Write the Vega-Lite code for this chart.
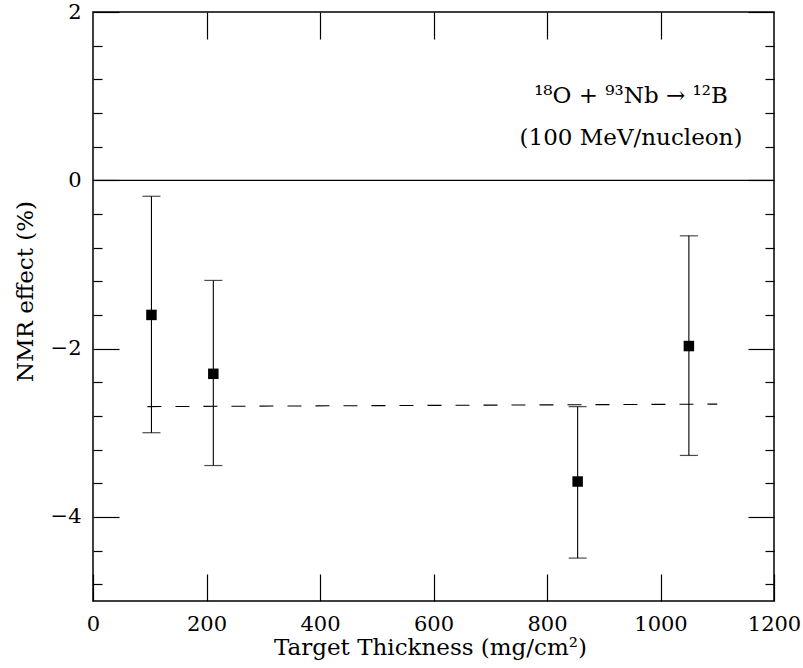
{
  "$schema": "https://vega.github.io/schema/vega-lite/v6.json",
  "width": 681,
  "height": 589,
  "autosize": {"type": "none"},
  "padding": {"left": 93, "top": 12, "right": 29, "bottom": 67},
  "background": "white",
  "config": {
    "view": {"stroke": "black", "strokeWidth": 1.5},
    "font": "DejaVu Serif",
    "axis": {
      "domain": false,
      "grid": false,
      "tickColor": "black",
      "tickWidth": 1.2,
      "labelColor": "black",
      "titleColor": "black",
      "labelFont": "DejaVu Serif",
      "titleFont": "DejaVu Serif",
      "labelFontSize": 21,
      "titleFontSize": 23,
      "titleFontWeight": "normal",
      "labelFlush": false,
      "labelOverlap": false
    }
  },
  "datasets": {
    "pts": [
      {"thickness": 103, "nmr": -1.6, "lo": -3.0, "hi": -0.19},
      {"thickness": 212, "nmr": -2.3, "lo": -3.39, "hi": -1.19},
      {"thickness": 854, "nmr": -3.58, "lo": -4.49, "hi": -2.69},
      {"thickness": 1050, "nmr": -1.97, "lo": -3.27, "hi": -0.66}
    ],
    "fit": [
      {"thickness": 96, "nmr": -2.69},
      {"thickness": 1100, "nmr": -2.66}
    ],
    "zero": [
      {"thickness": 0, "nmr": 0},
      {"thickness": 1200, "nmr": 0}
    ],
    "labels": [
      {"thickness": 948, "nmr": 0.918, "text": "¹⁸O  +  ⁹³Nb  →  ¹²B"},
      {"thickness": 948, "nmr": 0.42, "text": "(100 MeV/nucleon)"}
    ]
  },
  "resolve": {"axis": {"x": "independent", "y": "independent"}},
  "layer": [
    {
      "data": {"name": "pts"},
      "mark": {"type": "rule", "color": "black", "strokeWidth": 1.1},
      "encoding": {
        "x": {
          "field": "thickness", "type": "quantitative",
          "scale": {"domain": [0, 1200], "nice": false, "zero": false},
          "axis": {
            "orient": "bottom",
            "values": [0, 200, 400, 600, 800, 1000, 1200],
            "format": "d",
            "tickSize": -27,
            "labelPadding": 39,
            "title": "Target Thickness (mg/cm²)",
            "titleX": 337,
            "titleY": 53,
            "titleBaseline": "alphabetic"
          }
        },
        "y": {
          "field": "lo", "type": "quantitative",
          "scale": {"domain": [-5, 2], "nice": false, "zero": false},
          "axis": {
            "orient": "left",
            "values": [-4, -2, 0, 2],
            "tickSize": -26,
            "labelPadding": 38,
            "title": "NMR effect (%)",
            "titleX": -61,
            "titleY": 279,
            "titleAngle": -90,
            "titleBaseline": "alphabetic"
          }
        },
        "y2": {"field": "hi"}
      }
    },
    {
      "data": {"name": "pts"},
      "mark": {"type": "tick", "orient": "horizontal", "color": "black", "size": 18, "thickness": 1.2},
      "encoding": {
        "x": {
          "field": "thickness", "type": "quantitative",
          "axis": {
            "orient": "top",
            "values": [200, 400, 600, 800, 1000],
            "tickSize": -27,
            "labels": false,
            "title": null
          }
        },
        "y": {
          "field": "lo", "type": "quantitative",
          "axis": {
            "orient": "left",
            "values": [-4.8, -4.4, -3.6, -3.2, -2.8, -2.4, -1.6, -1.2, -0.8, -0.4, 0.4, 0.8, 1.2, 1.6],
            "tickSize": -9,
            "labels": false,
            "title": null
          }
        }
      }
    },
    {
      "data": {"name": "pts"},
      "mark": {"type": "tick", "orient": "horizontal", "color": "black", "size": 18, "thickness": 1.2},
      "encoding": {
        "x": {"field": "thickness", "type": "quantitative", "axis": null},
        "y": {
          "field": "hi", "type": "quantitative",
          "axis": {
            "orient": "right",
            "values": [-4, -2, 0, 2],
            "tickSize": -26,
            "labels": false,
            "title": null
          }
        }
      }
    },
    {
      "data": {"name": "pts"},
      "mark": {"type": "point", "shape": "square", "filled": true, "color": "black", "opacity": 1, "size": 110},
      "encoding": {
        "x": {"field": "thickness", "type": "quantitative", "axis": null},
        "y": {
          "field": "nmr", "type": "quantitative",
          "axis": {
            "orient": "right",
            "values": [-4.8, -4.4, -3.6, -3.2, -2.8, -2.4, -1.6, -1.2, -0.8, -0.4, 0.4, 0.8, 1.2, 1.6],
            "tickSize": -9,
            "labels": false,
            "title": null
          }
        }
      }
    },
    {
      "data": {"name": "fit"},
      "mark": {"type": "line", "color": "black", "strokeWidth": 1.1, "strokeDash": [14, 14]},
      "encoding": {
        "x": {"field": "thickness", "type": "quantitative", "axis": null},
        "y": {"field": "nmr", "type": "quantitative", "axis": null}
      }
    },
    {
      "data": {"name": "zero"},
      "mark": {"type": "line", "color": "black", "strokeWidth": 1.3},
      "encoding": {
        "x": {"field": "thickness", "type": "quantitative", "axis": null},
        "y": {"field": "nmr", "type": "quantitative", "axis": null}
      }
    },
    {
      "data": {"name": "labels"},
      "mark": {"type": "text", "color": "black", "font": "DejaVu Serif", "fontSize": 23, "align": "center", "baseline": "alphabetic"},
      "encoding": {
        "x": {"field": "thickness", "type": "quantitative", "axis": null},
        "y": {"field": "nmr", "type": "quantitative", "axis": null},
        "text": {"field": "text"}
      }
    }
  ]
}
